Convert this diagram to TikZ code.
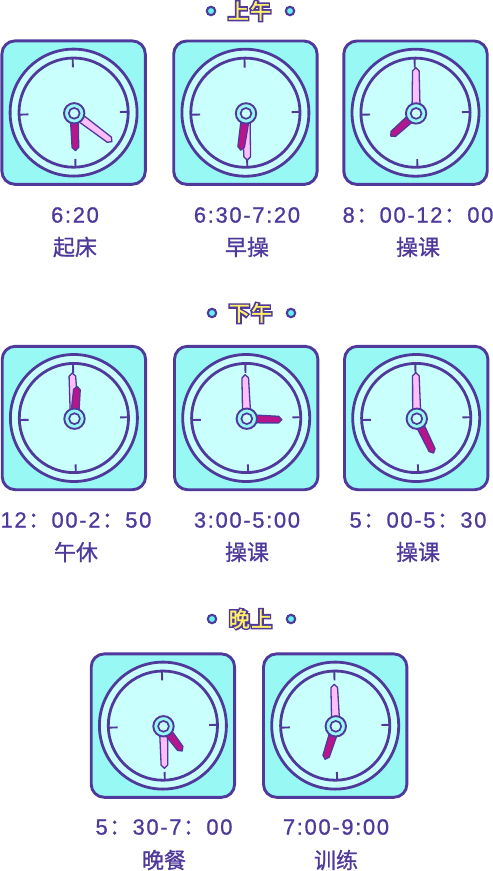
\documentclass[tikz,border=0pt]{standalone}
\usepackage{fontspec}
\setmainfont{Liberation Sans}
\newfontfamily\cjk[FakeBold=0.9]{Noto Sans CJK SC}
\newfontfamily\numf[LetterSpace=7.5,FakeBold=0.9]{Liberation Sans}
\newfontfamily\titleout[FakeBold=14,LetterSpace=6]{Noto Sans CJK SC Bold}
\newfontfamily\titlefill[LetterSpace=6,FakeBold=1.5]{Noto Sans CJK SC}
\definecolor{ink}{HTML}{4F3A9C}
\definecolor{boxfill}{HTML}{98F9F4}
\definecolor{dial}{HTML}{C9FFFD}
\definecolor{pinkhand}{HTML}{FFBDF9}
\definecolor{hourhand}{HTML}{B8148C}
\definecolor{titley}{HTML}{FFF06A}
\definecolor{bulletc}{HTML}{66F0F0}
\tikzset{
  boxst/.style={draw=ink,line width=2.9pt,fill=boxfill,rounded corners=13pt},
  ringst/.style={draw=ink,line width=2.8pt,fill=dial},
  tickst/.style={draw=ink,line width=1.9pt},
  handst/.style={draw=ink,line width=1.3pt,line join=round},
  labst/.style={text=ink,inner sep=0pt,font=\fontsize{22}{22}\selectfont},
  bulletst/.style={circle,draw=ink,line width=2.1pt,fill=bulletc,minimum size=8.4pt,inner sep=0pt},
}
% hand: hub x, hub y, tip dx, tip dy, colour
\newcommand{\clockhand}[5]{%
  \pgfmathsetmacro{\LL}{veclen(#3,#4)}%
  \pgfmathsetmacro{\ux}{#3/\LL}\pgfmathsetmacro{\uy}{#4/\LL}%
  \pgfmathsetmacro{\nx}{-\uy}\pgfmathsetmacro{\ny}{\ux}%
  \pgfmathsetmacro{\sh}{\LL-3.2}%
  \draw[handst,fill=#5]
   ({#1+4.1*\nx},{#2+4.1*\ny})
   -- ({#1+\sh*\ux+3.3*\nx},{#2+\sh*\uy+3.3*\ny})
   -- ({#1+#3},{#2+#4})
   -- ({#1+\sh*\ux-3.3*\nx},{#2+\sh*\uy-3.3*\ny})
   -- ({#1-4.1*\nx},{#2-4.1*\ny}) -- cycle;}
% clock: box centre x,y ; minute dx,dy ; hour dx,dy
\newcommand{\clockface}[6]{%
  \draw[boxst] ({#1-71.7},{#2-71.7}) rectangle ({#1+71.7},{#2+71.7});
  \draw[ringst] (#1,#2) circle[radius=63.5pt];
  \draw[ringst] (#1,#2) circle[radius=54.6pt];
  \foreach \a in {0,90,180,270}{%
    \draw[tickst] ({#1+0.5+45.8*cos(\a+1.5)},{#2+0.6-45.8*sin(\a+1.5)}) -- ({#1+0.5+54.6*cos(\a+1.5)},{#2+0.6-54.6*sin(\a+1.5)});}
  \clockhand{#1+0.6}{#2+0.7}{#3}{#4}{pinkhand}
  \clockhand{#1+0.6}{#2+0.7}{#5}{#6}{hourhand}
  \draw[draw=ink,line width=1.9pt,fill=boxfill] ({#1+0.6},{#2+0.7}) circle[radius=10.2pt];
  \draw[draw=ink,line width=1.7pt,fill=dial] ({#1+0.6},{#2+0.7}) circle[radius=5.4pt];
}
\newcommand{\timelabel}[6]{%
  \node[labst] (#1t) at (#2,#3) {\numf #5};
  \node[labst] (#1c) at (#2,#4) {\cjk #6};}
\newcommand{\fw}{\kern1.4pt{\cjk ：}\kern1.4pt}
\newcommand{\daytitle}[5]{%
  \node[bulletst] (#1l) at (#3,#2) {};
  \node[bulletst] (#1r) at (#4,#2) {};
  \node[inner sep=0pt,text=ink,font=\fontsize{21}{21}\selectfont] (#1o) at ({(#3+#4)/2-1},#2) {\titleout #5};
  \node[inner sep=0pt,text=titley,font=\fontsize{21}{21}\selectfont] (#1f) at ({(#3+#4)/2-1},#2) {\titlefill #5};}
\begin{document}
\begin{tikzpicture}[x=1pt,y=-1pt]
\useasboundingbox (0,0) rectangle (493,871);
\fill[white] (0,0) rectangle (493,871);
\daytitle{am}{11}{211}{290}{上午}
\daytitle{pm}{313}{212}{291}{下午}
\daytitle{ev}{619}{212}{291}{晚上}
\clockface{73.6}{112.6}{37.7}{28.3}{1.3}{37.3}
\clockface{245.4}{112.7}{1.3}{46.7}{-5.3}{36.7}
\clockface{415.5}{112.7}{-0.3}{-45.7}{-25.3}{22.7}
\clockface{73.9}{418}{-2.3}{-45.7}{2.7}{-32.3}
\clockface{246.2}{418}{-1.7}{-44}{35}{1}
\clockface{416.2}{418}{-1}{-46}{16.7}{34.3}
\clockface{162.9}{725.6}{1}{42}{18.7}{24.7}
\clockface{335.2}{725.6}{-1.7}{-42}{-10.7}{33}
\timelabel{a}{75}{215}{247}{6:20}{起床}
\timelabel{b}{247}{215}{247}{6:30-7:20}{早操}
\timelabel{c}{418}{215}{247}{8\fw 00-12\fw 00}{操课}
\timelabel{d}{76}{520}{552}{12\fw 00-2\fw 50}{午休}
\timelabel{e}{247}{520}{552}{3:00-5:00}{操课}
\timelabel{f}{418}{520}{552}{5\fw 00-5\fw 30}{操课}
\timelabel{g}{164}{827}{860}{5\fw 30-7\fw 00}{晚餐}
\timelabel{h}{336}{827}{860}{7:00-9:00}{训练}
\end{tikzpicture}
\end{document}
